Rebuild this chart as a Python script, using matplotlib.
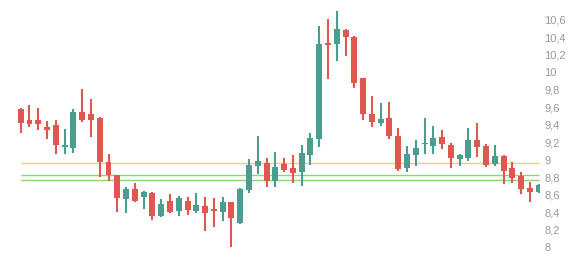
import numpy as np
import matplotlib
matplotlib.use('Agg')
import matplotlib.pyplot as plt
from matplotlib.ticker import FixedLocator, FuncFormatter

# candle data (open, high, low, close)
opens = [9.58, 9.45, 9.45, 9.37, 9.40, 9.14, 9.13, 9.55, 9.52, 9.48,
         8.97, 8.82, 8.55, 8.66, 8.57, 8.62, 8.35, 8.53, 8.41, 8.53,
         8.41, 8.47, 8.44, 8.40, 8.51, 8.28, 8.65, 8.93, 8.96, 8.76,
         8.95, 8.90, 8.86, 9.05, 9.24, 10.34, 10.32, 10.49, 10.41, 9.93,
         9.52, 9.42, 9.48, 9.27, 8.90, 9.05, 9.18, 9.16, 9.26, 9.17,
         9.01, 9.02, 9.22, 9.16, 8.95, 9.04, 8.90, 8.81, 8.68, 8.63]
highs = [9.59, 9.63, 9.59, 9.44, 9.45, 9.35, 9.58, 9.81, 9.70, 9.49,
         9.07, 8.83, 8.69, 8.73, 8.64, 8.63, 8.55, 8.61, 8.58, 8.57,
         8.62, 8.57, 8.56, 8.57, 8.52, 8.68, 9.01, 9.27, 9.02, 9.09,
         9.02, 9.05, 9.17, 9.31, 10.53, 10.61, 10.70, 10.50, 10.42, 9.94,
         9.73, 9.65, 9.66, 9.36, 9.16, 9.23, 9.48, 9.39, 9.34, 9.19,
         9.07, 9.36, 9.42, 9.18, 9.17, 9.05, 8.97, 8.86, 8.74, 8.72]
lows = [9.31, 9.37, 9.34, 9.24, 9.07, 9.07, 9.08, 9.43, 9.26, 8.80,
        8.76, 8.40, 8.39, 8.51, 8.44, 8.31, 8.34, 8.39, 8.36, 8.37,
        8.39, 8.18, 8.23, 8.30, 8.00, 8.26, 8.62, 8.84, 8.69, 8.69,
        8.86, 8.73, 8.70, 8.94, 9.15, 9.92, 10.13, 10.19, 9.82, 9.45,
        9.37, 9.39, 9.24, 8.87, 8.86, 8.93, 9.06, 9.07, 9.12, 8.91,
        8.93, 8.98, 9.03, 8.92, 8.93, 8.72, 8.73, 8.61, 8.51, 8.62]
closes = [9.42, 9.41, 9.41, 9.34, 9.17, 9.17, 9.55, 9.45, 9.45, 8.97,
          8.82, 8.56, 8.67, 8.53, 8.63, 8.36, 8.49, 8.40, 8.56, 8.42,
          8.48, 8.39, 8.41, 8.51, 8.33, 8.67, 8.94, 8.98, 8.76, 8.92,
          8.88, 8.85, 9.08, 9.25, 10.33, 10.31, 10.50, 10.41, 9.88, 9.52,
          9.43, 9.47, 9.27, 8.89, 9.06, 9.13, 9.19, 9.25, 9.18, 9.02,
          9.05, 9.22, 9.15, 8.94, 9.04, 8.87, 8.79, 8.66, 8.63, 8.71]

# price levels drawn across the chart
levels = [8.96, 8.83, 8.77]
level_colors = ['#e6d36e', '#8fd37c', '#8fd37c']

y_ticks = [8.0, 8.2, 8.4, 8.6, 8.8, 9.0, 9.2, 9.4, 9.6, 9.8, 10.0, 10.2, 10.4, 10.6]

up_color = '#4a9d8f'
down_color = '#e0574f'

plt.rcParams['font.family'] = ['Liberation Sans', 'DejaVu Sans']

fig = plt.figure(figsize=(5.84, 2.58), dpi=100)
ax = fig.add_axes([0, 0, 540 / 584.0, 1])

x = np.arange(len(opens))
o = np.array(opens)
c = np.array(closes)
colors = [up_color if cc >= oo else down_color for oo, cc in zip(o, c)]

# wicks first, bodies on top
ax.vlines(x, lows, highs, colors=colors, linewidth=1.5, zorder=2)
body_h = np.maximum(np.abs(c - o), 0.012)
ax.bar(x, body_h, bottom=np.minimum(o, c), width=0.68, color=colors,
       linewidth=0, zorder=3)

for lv, lc in zip(levels, level_colors):
    ax.hlines(lv, 0, len(opens) - 1, colors=lc, linewidth=1.0, zorder=1)

ax.set_xlim(-2.36, 59.15)
ax.set_ylim(7.874, 10.829)

ax.yaxis.tick_right()
ax.yaxis.set_major_locator(FixedLocator(y_ticks))


def fmt(v, pos):
    s = ('%.1f' % v).rstrip('0').rstrip('.')
    return s.replace('.', ',')


ax.yaxis.set_major_formatter(FuncFormatter(fmt))
ax.tick_params(axis='y', length=0, pad=3, labelsize=8, labelcolor='#999999')
ax.set_xticks([])
for sp in ax.spines.values():
    sp.set_visible(False)

fig.savefig('out.png', dpi=100)
